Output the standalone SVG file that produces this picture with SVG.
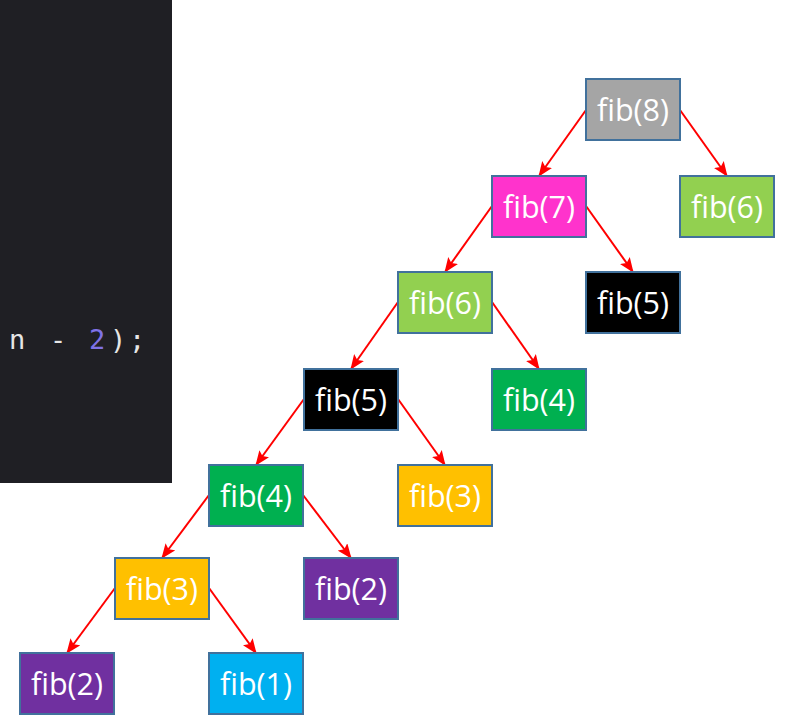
<svg xmlns="http://www.w3.org/2000/svg" width="786" height="727" viewBox="0 0 786 727">
<style>
.node rect{stroke:#41719c;stroke-width:2}
.node text{font-family:"Open Sans","Noto Sans",sans-serif;font-size:30.5px;fill:#ffffff;text-anchor:middle}
.edge{stroke:#ff0000;stroke-width:2;fill:none;marker-end:url(#ah)}
.code{font-family:"DejaVu Sans Mono","Liberation Mono",monospace;font-size:27px;fill:#e6e6e6}
</style>
<defs>
<marker id="ah" markerUnits="userSpaceOnUse" markerWidth="15" markerHeight="12" viewBox="0 0 15 12" refX="14" refY="6" orient="auto">
<path d="M0,0 L15,6 L0,12 L3,6 Z" fill="#ff0000"/>
</marker>
</defs>
<rect width="786" height="727" fill="#ffffff"/>
<g id="code-panel">
<rect x="0" y="0" width="172" height="483" fill="#1f1f24"/>
<text class="code" x="9" y="349"><tspan>n</tspan><tspan x="50">-</tspan><tspan x="89" fill="#7f72e6">2</tspan><tspan x="110">)</tspan><tspan x="129">;</tspan></text>
</g>
<g id="connectors">
<line class="edge" x1="586" y1="110" x2="539" y2="176"/>
<line class="edge" x1="680" y1="110" x2="727" y2="176"/>
<line class="edge" x1="492" y1="206" x2="445" y2="272"/>
<line class="edge" x1="586" y1="206" x2="633" y2="272"/>
<line class="edge" x1="398" y1="302" x2="351" y2="369"/>
<line class="edge" x1="492" y1="302" x2="539" y2="369"/>
<line class="edge" x1="304" y1="399" x2="256" y2="465"/>
<line class="edge" x1="398" y1="399" x2="445" y2="465"/>
<line class="edge" x1="209" y1="495" x2="162" y2="558"/>
<line class="edge" x1="303" y1="495" x2="351" y2="558"/>
<line class="edge" x1="115" y1="588" x2="67" y2="653"/>
<line class="edge" x1="209" y1="588" x2="256" y2="653"/>
</g>
<g id="fib8" class="node"><rect x="586" y="79" width="94" height="61" fill="#a5a5a5"/><text x="633" y="121">fib(8)</text></g>
<g id="fib7" class="node"><rect x="492" y="176" width="94" height="61" fill="#ff33cc"/><text x="539" y="218">fib(7)</text></g>
<g id="fib6-r" class="node"><rect x="680" y="176" width="94" height="61" fill="#92d050"/><text x="727" y="218">fib(6)</text></g>
<g id="fib6" class="node"><rect x="398" y="272" width="94" height="61" fill="#92d050"/><text x="445" y="314">fib(6)</text></g>
<g id="fib5-r" class="node"><rect x="586" y="272" width="94" height="61" fill="#000000"/><text x="633" y="314">fib(5)</text></g>
<g id="fib5" class="node"><rect x="304" y="369" width="94" height="61" fill="#000000"/><text x="351" y="411">fib(5)</text></g>
<g id="fib4-r" class="node"><rect x="492" y="369" width="94" height="61" fill="#00b050"/><text x="539" y="411">fib(4)</text></g>
<g id="fib4" class="node"><rect x="209" y="465" width="94" height="61" fill="#00b050"/><text x="256" y="507">fib(4)</text></g>
<g id="fib3-r" class="node"><rect x="398" y="465" width="94" height="61" fill="#ffc000"/><text x="445" y="507">fib(3)</text></g>
<g id="fib3" class="node"><rect x="115" y="558" width="94" height="61" fill="#ffc000"/><text x="162" y="600">fib(3)</text></g>
<g id="fib2-r" class="node"><rect x="304" y="558" width="94" height="61" fill="#7030a0"/><text x="351" y="600">fib(2)</text></g>
<g id="fib2" class="node"><rect x="20" y="653" width="94" height="61" fill="#7030a0"/><text x="67" y="695">fib(2)</text></g>
<g id="fib1" class="node"><rect x="209" y="653" width="94" height="61" fill="#00b0f0"/><text x="256" y="695">fib(1)</text></g>
</svg>
